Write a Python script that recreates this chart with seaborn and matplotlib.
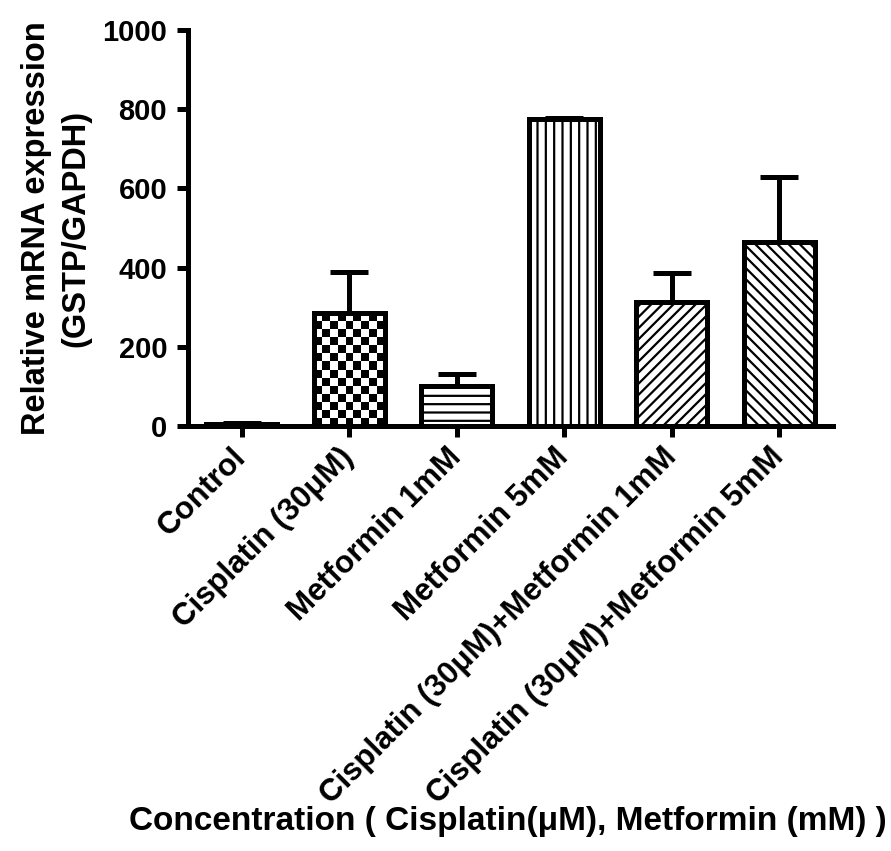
import numpy as np
import pandas as pd
import matplotlib
matplotlib.use('Agg')
import matplotlib.pyplot as plt
import seaborn as sns

# values (mean, upper SEM)
groups = ['Control', 'Cisplatin (30μM)', 'Metformin 1mM', 'Metformin 5mM',
          'Cisplatin (30μM)+Metformin 1mM', 'Cisplatin (30μM)+Metformin 5mM']
means = [5, 285, 101, 776, 314, 465]
sems = [2, 105, 30, 3, 72, 164]
hatches = ['', 'checker', '--', '||', '///', '\\\\\\']
y_ticks = [0, 200, 400, 600, 800, 1000]

sns.set_theme(style='ticks')
plt.rcParams['font.family'] = ['Liberation Sans', 'DejaVu Sans']
plt.rcParams['font.weight'] = 'bold'
plt.rcParams['hatch.linewidth'] = 1.6
for key in ['text.color', 'axes.labelcolor', 'axes.edgecolor',
            'xtick.color', 'ytick.color']:
    plt.rcParams[key] = 'black'
LW = 3.6

fig = plt.figure(figsize=(8.91, 8.51), dpi=100)
ax = fig.add_axes([0.211, 0.4994, 0.724, 0.4653])

df = pd.DataFrame({'group': groups, 'value': means})
sns.barplot(data=df, x='group', y='value', order=groups, color='white',
            saturation=1, edgecolor='black', linewidth=LW, width=0.66,
            errorbar=None, ax=ax)

ax.set_xlim(-0.5, len(groups) - 0.5)
ax.set_ylim(0, 1000)
ax.set_yticks(y_ticks)

bars = ax.patches[:len(groups)]
centers = [b.get_x() + b.get_width() / 2 for b in bars]
ax.errorbar(centers, means, yerr=[np.zeros(len(means)), sems], fmt='none',
            ecolor='black', elinewidth=LW, capsize=14, capthick=LW, zorder=0.9)

# hatch fills; the checkerboard one is an image clipped to the bar
for bar, h in zip(bars, hatches):
    if h == 'checker':
        x0, y0 = bar.get_x(), bar.get_y()
        w, hh = bar.get_width(), bar.get_height()
        p0 = ax.transData.transform((x0, y0))
        p1 = ax.transData.transform((x0 + w, y0 + hh))
        nx = max(1, int(round((p1[0] - p0[0]) / 8.3)))
        ny = max(1, int(round((p1[1] - p0[1]) / 8.3)))
        board = np.add.outer(np.arange(ny), np.arange(nx)) % 2
        im = ax.imshow(board, cmap='gray', extent=(x0, x0 + w, y0, y0 + hh),
                       aspect='auto', interpolation='nearest', origin='lower',
                       zorder=0.5)
        im.set_clip_path(bar)
        bar.set_facecolor('none')
    elif h:
        bar.set_hatch(h)

ax.set_xlim(-0.5, len(groups) - 0.5)
ax.set_ylim(0, 1000)

sns.despine(ax=ax)
for side in ['left', 'bottom']:
    ax.spines[side].set_linewidth(LW)
    ax.spines[side].set_color('black')
ax.tick_params(axis='both', width=LW, length=8, color='black',
               labelcolor='black')
ax.tick_params(axis='y', labelsize=21, pad=7)
ax.tick_params(axis='x', labelsize=22.5, pad=11)
for lab in ax.get_yticklabels():
    lab.set_fontweight('bold')
plt.setp(ax.get_xticklabels(), rotation=45, ha='right', va='center',
         rotation_mode='anchor', fontweight='bold')

ax.set_ylabel('Relative mRNA expression\n(GSTP/GAPDH)', fontsize=23.5,
              fontweight='bold', linespacing=1.35, color='black')
ax.yaxis.set_label_coords(-0.15, 0.5)
ax.set_xlabel('Concentration ( Cisplatin(μM), Metformin (mM) )',
              fontsize=24, fontweight='bold', color='black')
ax.xaxis.set_label_coords(0.496, -1.0)
ax.xaxis.label.set_va('center')

fig.savefig('out.png', dpi=100)
